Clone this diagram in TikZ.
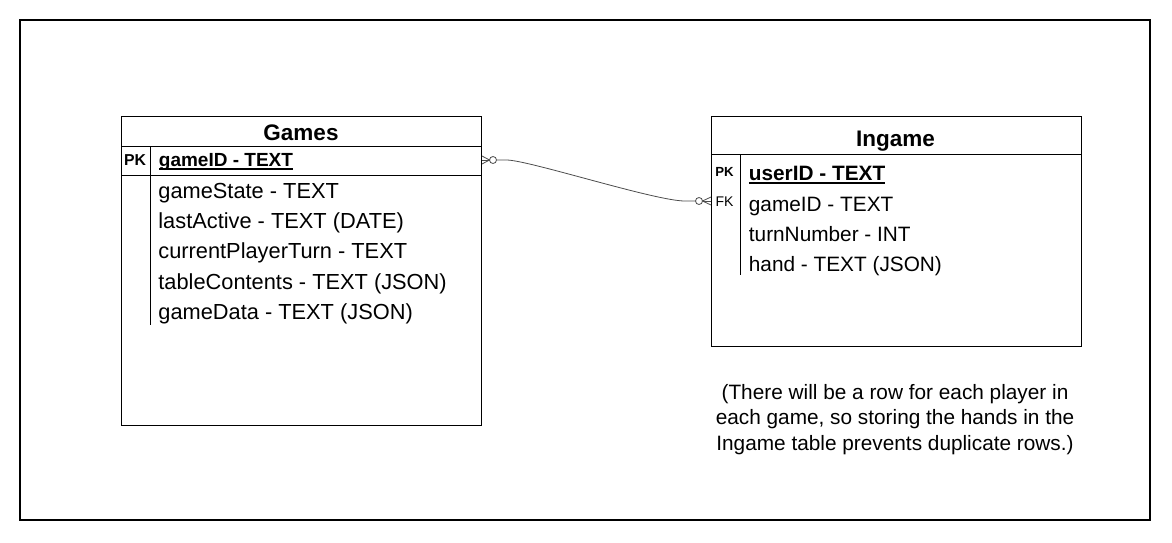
\documentclass[tikz,border=0pt]{standalone}
\usepackage{fontspec}
\setmainfont{Liberation Sans}

\newlength{\keywd}
\newcommand{\keyline}[1]{\settowidth{\keywd}{#1}\rlap{#1}\rule[-1.5pt]{\keywd}{0.7pt}}

\tikzset{
    tbl/.style = {draw, line width=0.5pt, inner sep=0pt, anchor=north west},
    ttl/.style = {font=\fontsize{11.25}{13}\selectfont\bfseries, anchor=base, inner sep=0pt},
    fld/.style = {font=\fontsize{10.4}{12}\selectfont, anchor=base west, inner sep=0pt},
    pkey/.style = {font=\fontsize{7.2}{8}\selectfont\bfseries, anchor=base, inner sep=0pt},
    fkey/.style = {font=\fontsize{7}{8}\selectfont, anchor=base, inner sep=0pt},
    rel/.style = {draw=black!70, line width=0.4pt},
}

\begin{document}
\begin{tikzpicture}[x=0.5pt, y=-0.5pt]
        \useasboundingbox (0, 0) rectangle (1172, 542);
        \draw[line width=0.7pt] (20, 20) rectangle (1150, 520);

        % Games
        \node[tbl, minimum width=180pt, minimum height=154.5pt] (games) at (121, 115.5) {};
        \draw[line width=0.5pt] (121, 146) -- (481, 146);
        \draw[line width=0.5pt] (121, 175) -- (481, 175);
        \draw[line width=0.5pt] (150.5, 146) -- (150.5, 325);
        \node[ttl] (gtitle) at (301, 140) {Games};
        \node[pkey, font=\fontsize{7.9}{9}\selectfont\bfseries] (gpk) at (135, 165.5) {PK};
        \node[fld, font=\fontsize{9.5}{11}\selectfont\bfseries] (gid) at (158.5, 166.5) {\keyline{gameID - TEXT}};
        \node[fld, font=\fontsize{10.9}{12}\selectfont] (gstate) at (158, 198) {gameState - TEXT};
        \node[fld, font=\fontsize{10.9}{12}\selectfont] (gactive) at (158, 228) {lastActive - TEXT (DATE)};
        \node[fld, font=\fontsize{10.9}{12}\selectfont] (gturn) at (158, 258.5) {currentPlayerTurn - TEXT};
        \node[fld, font=\fontsize{10.9}{12}\selectfont] (gtable) at (158, 289) {tableContents - TEXT (JSON)};
        \node[fld, font=\fontsize{10.9}{12}\selectfont] (gdata) at (158, 319.5) {gameData - TEXT (JSON)};

        % Ingame
        \node[tbl, minimum width=184.75pt, minimum height=115pt] (ingame) at (711, 115.5) {};
        \draw[line width=0.5pt] (711, 154.5) -- (1080.5, 154.5);
        \draw[line width=0.5pt] (740.5, 154.5) -- (740.5, 275);
        \node[ttl] (ititle) at (895.5, 146) {Ingame};
        \node[pkey, font=\fontsize{6.6}{8}\selectfont\bfseries] (ipk) at (724.5, 176.7) {PK};
        \node[fkey] (ifk) at (724.5, 206.5) {FK};
        \node[fld, font=\fontsize{10.4}{12}\selectfont\bfseries] (iuser) at (748.5, 180.5) {\keyline{userID - TEXT}};
        \node[fld] (igame) at (748.5, 211.5) {gameID - TEXT};
        \node[fld] (iturn) at (748.5, 241) {turnNumber - INT};
        \node[fld] (ihand) at (748.5, 271) {hand - TEXT (JSON)};

        % relation, zero or many at both ends
        \coordinate (gk) at (games.east |- 0, 160);
        \coordinate (ik) at (ingame.west |- 0, 201);
        \draw[rel] (gk) -- ([xshift=3.75pt]gk);
        \draw[rel] ([yshift=2pt]gk) -- ([xshift=3.75pt]gk) -- ([yshift=-2pt]gk);
        \draw[rel] ([xshift=5.5pt]gk) circle[radius=1.75pt];
        \draw[rel] ([xshift=7.25pt]gk) -- ++(10, 0)
            .. controls ++(22, 0) and ++(-30, 0) .. ([xshift=-13pt]ik) -- ([xshift=-7.75pt]ik);
        \draw[rel] ([xshift=-6pt]ik) circle[radius=1.75pt];
        \draw[rel] ([yshift=2pt]ik) -- ([xshift=-4.25pt]ik) -- ([yshift=-2pt]ik);
        \draw[rel] ([xshift=-4.25pt]ik) -- (ik);

        \node[font=\fontsize{10.4}{12.75}\selectfont, align=center, inner sep=0pt] (note) at (895, 419.5)
            {(There will be a row for each player in\\each game, so storing the hands in the\\Ingame table prevents duplicate rows.)};
    \end{tikzpicture}
\end{document}
